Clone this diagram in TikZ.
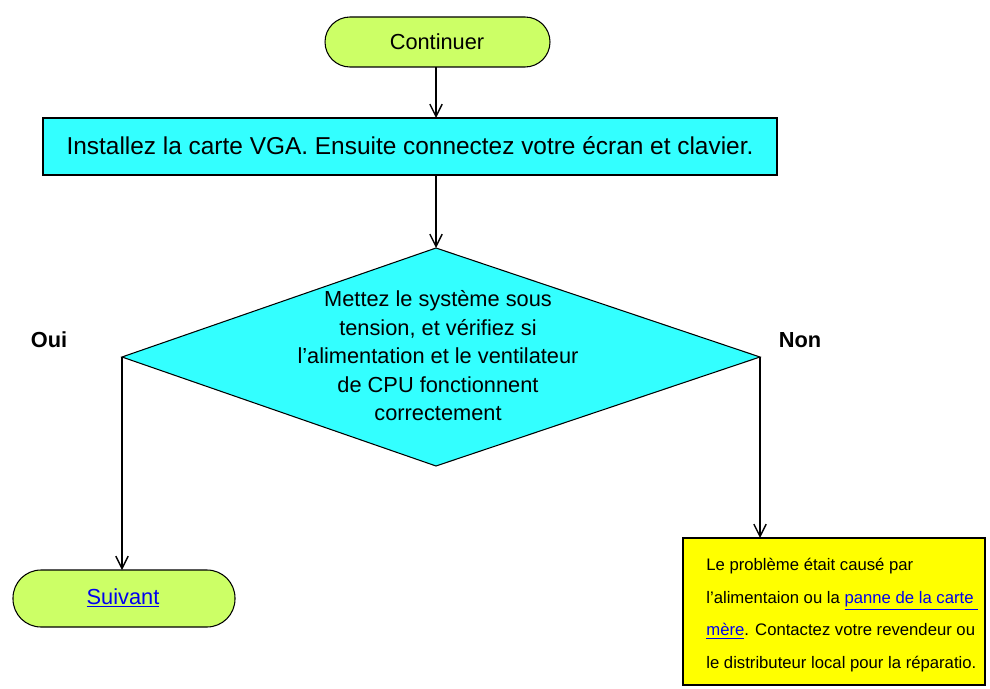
\documentclass[tikz,border=0pt]{standalone}
\usepackage{fontspec}
\setmainfont{Liberation Sans}
\usetikzlibrary{arrows.meta}
\definecolor{lgreen}{HTML}{CCFF66}
\definecolor{cyanb}{HTML}{33FFFF}
\definecolor{ylw}{HTML}{FFFF00}
\definecolor{lnk}{HTML}{0000EE}
\newcommand{\lk}[1]{\textcolor{lnk}{\underline{#1}}}
\begin{document}
\begin{tikzpicture}[x=0.02cm,y=-0.02cm,font=\fontsize{12.4}{14}\selectfont,
  arr/.style={-{Straight Barb[length=7pt,width=7pt]},line width=0.8pt},
  box/.style={draw=black,line width=0.6pt},
  txt/.style={inner sep=0pt}]
\useasboundingbox (0,0) rectangle (990,689);
% Continuer
\draw[box,fill=lgreen,rounded corners=25*0.02cm] (325,17) rectangle (550,67);
\node[txt] (c) at (437,42) {Continuer};
\coordinate (cb) at (436,67);
% VGA box
\draw[box,fill=cyanb] (43,118) rectangle (777,175);
\node[txt,font=\fontsize{13.9}{14}\selectfont] (v) at (410,146) {Installez la carte VGA. Ensuite connectez votre écran et clavier.};
\coordinate (vt) at (436,118);
\coordinate (vb) at (436,175);
\draw[arr] (cb) -- (vt);
% diamond
\coordinate (dt) at (436,248);
\coordinate (dl) at (122,357);
\coordinate (dr) at (760,357);
\coordinate (db) at (436,466);
\draw[box,fill=cyanb] (dt) -- (dr) -- (db) -- (dl) -- cycle;
\draw[arr] (vb) -- (dt);
\node[txt,align=center,font=\fontsize{12.4}{16.2}\selectfont] (d) at (438,356) {Mettez le système sous\\tension, et vérifiez si\\l’alimentation et le ventilateur\\de CPU fonctionnent\\correctement};
\node[txt,font=\fontsize{12.4}{14}\selectfont\bfseries] (oui) at (49,340) {Oui};
\node[txt,font=\fontsize{12.4}{14}\selectfont\bfseries] (non) at (800,340) {Non};
% Suivant
\draw[box,fill=lgreen,rounded corners=28*0.02cm] (13,570) rectangle (235,627);
\node[txt,font=\fontsize{12.4}{14}\selectfont] (s) at (123,598) {\lk{Suivant}};
\coordinate (st) at (122,570);
\draw[arr] (dl) -- (st);
% yellow box
\draw[box,fill=ylw] (683,538) rectangle (985,685);
\coordinate (yt) at (760,538);
\draw[arr] (dr) -- (yt);
\node[txt,align=left,anchor=north west,font=\fontsize{9.5}{18.5}\selectfont] (y) at (706,558) {Le problème était causé par\\l’alimentaion ou la \lk{panne de la carte\ }\\\lk{mère}. Contactez votre revendeur ou\\le distributeur local pour la réparatio.};
\end{tikzpicture}
\end{document}
